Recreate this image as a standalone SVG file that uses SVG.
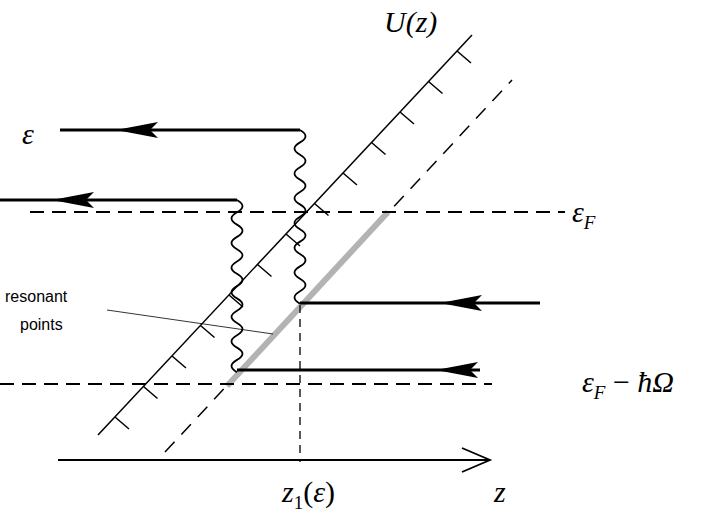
<svg xmlns="http://www.w3.org/2000/svg" width="704" height="516" viewBox="0 0 704 516">
<style>
.s{stroke:#000;fill:none}
.t{font-family:"Liberation Serif",serif;font-style:italic;font-size:30px}
.n{font-family:"Liberation Sans",sans-serif;font-size:16px}
.a{fill:#000}
</style>
<rect width="704" height="516" fill="#fff"/>
<g id="potential">
<line class="s" x1="98" y1="435" x2="472" y2="35" stroke-width="1.5"/>
<path class="s" stroke-width="1.5" d="M457,51 l14,12 M428.5,81.5 l14,12 M400,112 l14,12 M371.5,142.5 l14,12 M343,173 l14,12 M314.5,203.5 l14,12 M286,234 l14,12 M257.5,264.5 l14,12 M229,295 l14,12 M200.5,325.5 l14,12 M172,356 l14,12 M143.5,386.5 l14,12 M115,417 l14,12"/>
<line class="s" x1="165" y1="452" x2="512" y2="80" stroke-width="1.5" stroke-dasharray="14,10"/>
<line x1="227" y1="386" x2="388" y2="212" stroke="#b3b3b3" stroke-width="6"/>
</g>
<g id="levels">
<line class="s" x1="30" y1="212" x2="565" y2="212" stroke-width="1.8" stroke-dasharray="14,8"/>
<line class="s" x1="0" y1="384" x2="492" y2="384" stroke-width="1.8" stroke-dasharray="14,8"/>
<line class="s" x1="300" y1="305" x2="300" y2="462" stroke-width="1.3" stroke-dasharray="8,6"/>
</g>
<g id="axis">
<line class="s" x1="58" y1="460" x2="490" y2="460" stroke-width="1.8"/>
<path class="s" d="M462,448 L490,460 L462,472" stroke-width="1.8"/>
</g>
<g id="connectors">
<line class="s" x1="60" y1="130" x2="300" y2="130" stroke-width="3"/>
<line class="s" x1="0" y1="200" x2="237" y2="200" stroke-width="3"/>
<line class="s" x1="300" y1="303" x2="540" y2="303" stroke-width="3"/>
<line class="s" x1="237" y1="370" x2="480" y2="370" stroke-width="3"/>
<path class="a" d="M116,130 l42,-8 l-8,8 l8,8 Z"/>
<path class="a" d="M52,200 l42,-8 l-8,8 l8,8 Z"/>
<path class="a" d="M440,303 l42,-8 l-8,8 l8,8 Z"/>
<path class="a" d="M436,370 l42,-8 l-8,8 l8,8 Z"/>
<path class="s" stroke-width="1.8" d="M300,130 q11,6.2 0,12.4 q-11,6.2 0,12.4 q11,6.2 0,12.4 q-11,6.2 0,12.4 q11,6.2 0,12.4 q-11,6.2 0,12.4 q11,6.2 0,12.4 q-11,6.2 0,12.4 q11,6.2 0,12.4 q-11,6.2 0,12.4 q11,6.2 0,12.4 q-11,6.2 0,12.4 q11,6.2 0,12.4 q-11,6.2 0,12.4"/>
<path class="s" stroke-width="1.8" d="M237,200 q11,6.1 0,12.3 q-11,6.1 0,12.3 q11,6.1 0,12.3 q-11,6.1 0,12.3 q11,6.1 0,12.3 q-11,6.1 0,12.3 q11,6.1 0,12.3 q-11,6.1 0,12.3 q11,6.1 0,12.3 q-11,6.1 0,12.3 q11,6.1 0,12.3 q-11,6.1 0,12.3 q11,6.1 0,12.3 q-11,6.1 0,12.3"/>
<line class="s" x1="107" y1="310" x2="273" y2="334" stroke-width="0.8"/>
</g>
<g id="labels">
<text class="t" x="22" y="144">ε</text>
<text class="t" x="384" y="32">U(z)</text>
<text class="t" x="572" y="222">ε<tspan font-size="19" dy="7">F</tspan></text>
<text class="t" x="582" y="392">ε<tspan font-size="19" dy="7">F</tspan><tspan dy="-7" font-style="normal"> − </tspan>ħΩ</text>
<text class="t" x="282" y="502">z<tspan font-size="19" font-style="normal" dy="7">1</tspan><tspan dy="-7" font-style="normal">(</tspan>ε<tspan font-style="normal">)</tspan></text>
<text class="t" x="494" y="502">z</text>
<text class="n" x="5" y="302">resonant</text>
<text class="n" x="20" y="330">points</text>
</g>
</svg>
